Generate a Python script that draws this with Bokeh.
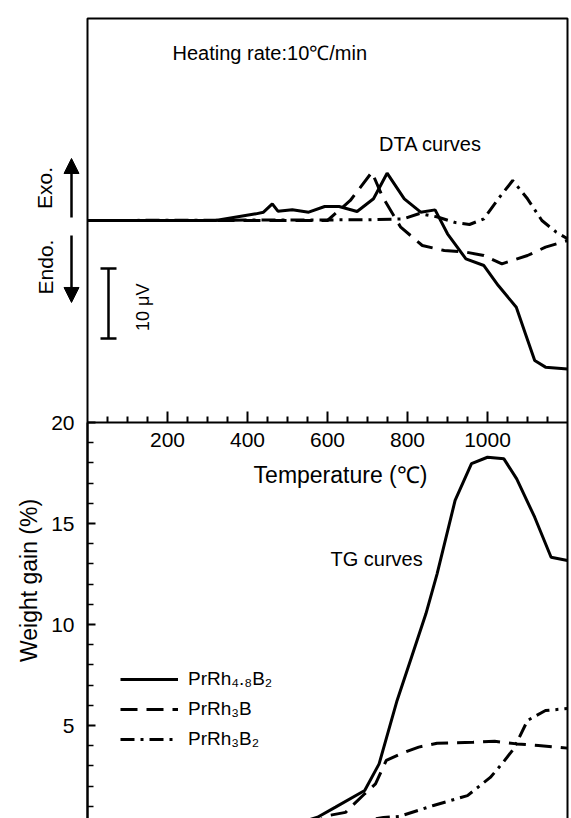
import numpy as np
from bokeh.plotting import figure
from bokeh.models import (Range1d, LinearAxis, FixedTicker, Label, Arrow, NormalHead,
                          Whisker, TeeHead, BoxAnnotation, Legend, LegendItem,
                          ColumnDataSource)
from bokeh.embed import file_html
from bokeh.resources import INLINE

# ---------------- data ----------------
series_names = ["PrRh\u2084.\u2088B\u2082", "PrRh\u2083B", "PrRh\u2083B\u2082"]

# DTA curves (signal in microvolts vs temperature in C)
dta_T_48 = [0, 320, 421, 440, 462, 476, 512, 553, 593, 629, 674, 715, 749, 792, 833, 869,
            900, 946, 991, 1027, 1072, 1095, 1118, 1145, 1200]
dta_v_48 = [0, 0, 0.95, 1.19, 2.38, 1.33, 1.52, 1.19, 2.0, 2.0, 1.29, 3.1, 6.76, 3.1, 1.19,
            1.52, -1.9, -5.48, -6.43, -9.29, -12.4, -16.2, -20.0, -20.95, -21.2]

dta_T_3B = [0, 600, 657, 711, 738, 783, 837, 892, 946, 991, 1036, 1100, 1145, 1200]
dta_v_3B = [0, 0, 2.86, 6.9, 3.33, -0.95, -3.57, -4.29, -4.52, -5.0, -6.19, -5.0, -3.81, -2.86]

dta_T_3B2 = [0, 700, 790, 830, 875, 920, 955, 991, 1027, 1063, 1100, 1136, 1172, 1200]
dta_v_3B2 = [0, 0.1, 0.24, 1.0, 0.5, -0.3, -0.57, 0.24, 3.1, 5.71, 3.1, 0.0, -1.67, -2.6]

# TG curves (weight gain % vs temperature in C)
tg_T_48 = [500, 575, 620, 693, 729, 774, 810, 846, 874, 919, 960, 1000, 1041, 1073, 1118,
           1159, 1200]
tg_v_48 = [0, 0.46, 0.96, 1.78, 3.1, 6.24, 8.38, 10.53, 12.51, 16.14, 17.96, 18.28, 18.2,
           17.21, 15.31, 13.33, 13.17]

tg_T_3B = [550, 602, 645, 693, 720, 747, 783, 828, 874, 964, 1018, 1073, 1127, 1200]
tg_v_3B = [0, 0.54, 0.7, 1.62, 2.11, 3.27, 3.6, 3.93, 4.12, 4.17, 4.22, 4.09, 4.01, 3.88]

tg_T_3B2 = [650, 700, 740, 780, 865, 950, 1007, 1037, 1066, 1100, 1145, 1200]
tg_v_3B2 = [0.1, 0.3, 0.45, 0.5, 1.04, 1.53, 2.43, 3.12, 3.86, 5.25, 5.74, 5.84]

x_major_ticks = [200, 400, 600, 800, 1000]
x_minor_ticks = [50, 100, 150, 250, 300, 350, 450, 500, 550, 650, 700, 750, 850, 900, 950,
                 1050, 1100, 1150]
y_major_ticks = [5, 10, 15, 20]
y_minor_ticks = [1, 2, 3, 4, 6, 7, 8, 9, 11, 12, 13, 14, 16, 17, 18, 19]

scale_bar_T = [52.5]
scale_bar_low = [-16.86]
scale_bar_high = [-6.86]

# ---------------- layout ----------------
W, H = 571, 818
T_MAX = 1200
AX_PX = 87            # x pixel of T = 0
PX_PER_T = 0.4
TG_TOP_PX = 422       # y pixel where weight gain = 20
TG_PX = 20.2
DTA_BASE_PX = 220
DTA_PX = 7.0
BOX_TOP_PX = 18

x_range = Range1d(-AX_PX / PX_PER_T, T_MAX + (W - AX_PX - T_MAX * PX_PER_T) / PX_PER_T)
y_range = Range1d(20 - (H - TG_TOP_PX) / TG_PX, 20 + TG_TOP_PX / TG_PX)
dta_range = Range1d(-(H - DTA_BASE_PX) / DTA_PX, DTA_BASE_PX / DTA_PX)

p = figure(width=W, height=H, x_range=x_range, y_range=y_range,
           output_backend="svg", toolbar_location=None,
           x_axis_type=None, y_axis_type=None,
           min_border_left=0, min_border_right=0, min_border_top=0, min_border_bottom=0)
p.extra_y_ranges = {"dta": dta_range}
p.xgrid.visible = False
p.ygrid.visible = False
p.outline_line_color = None
p.background_fill_color = "white"
p.border_fill_color = "white"

FONT = "Liberation Sans"

# frame box of the DTA panel (left/top/right)
box = BoxAnnotation(left=0, right=T_MAX, top=20 + (TG_TOP_PX - BOX_TOP_PX) / TG_PX,
                    bottom=y_range.start - 30, fill_alpha=0, line_color="black",
                    line_alpha=1.0, line_width=2)
p.add_layout(box)

# x axis, lying between the two panels
xaxis = LinearAxis(fixed_location=20, bounds=(0, T_MAX),
                   ticker=FixedTicker(ticks=x_major_ticks, minor_ticks=x_minor_ticks))
xaxis.axis_line_width = 2
xaxis.major_tick_in = 11
xaxis.major_tick_out = 0
xaxis.minor_tick_in = 6
xaxis.minor_tick_out = 0
xaxis.major_tick_line_width = 2
xaxis.minor_tick_line_width = 2
xaxis.major_label_standoff = 10
xaxis.major_label_text_font = FONT
xaxis.major_label_text_font_size = "21px"
xaxis.major_label_text_color = "black"
p.add_layout(xaxis, "below")

# y axis of TG panel
yaxis = LinearAxis(fixed_location=0, bounds=(0, 20),
                   ticker=FixedTicker(ticks=y_major_ticks, minor_ticks=y_minor_ticks))
yaxis.axis_line_width = 2
yaxis.major_tick_in = 8
yaxis.major_tick_out = 0
yaxis.minor_tick_in = 6
yaxis.minor_tick_out = 0
yaxis.major_tick_line_width = 2
yaxis.minor_tick_line_width = 1.5
yaxis.major_label_standoff = 13
yaxis.major_label_text_font = FONT
yaxis.major_label_text_font_size = "21px"
yaxis.major_label_text_color = "black"
p.add_layout(yaxis, "left")

# ---------------- curves ----------------
styles = [dict(line_dash="solid"), dict(line_dash="17 9"), dict(line_dash="14 6 3 6")]

p.line(dta_T_48, dta_v_48, y_range_name="dta", line_color="black", line_width=3, **styles[0])
p.line(dta_T_3B, dta_v_3B, y_range_name="dta", line_color="black", line_width=3, **styles[1])
p.line(dta_T_3B2, dta_v_3B2, y_range_name="dta", line_color="black", line_width=3, **styles[2])

r1 = p.line(tg_T_48, tg_v_48, line_color="black", line_width=3, **styles[0])
r2 = p.line(tg_T_3B, tg_v_3B, line_color="black", line_width=3, **styles[1])
r3 = p.line(tg_T_3B2, tg_v_3B2, line_color="black", line_width=3, **styles[2])

legend = Legend(items=[LegendItem(label=series_names[0], renderers=[r1]),
                       LegendItem(label=series_names[1], renderers=[r2]),
                       LegendItem(label=series_names[2], renderers=[r3])],
                location=(120, 68), glyph_width=58, glyph_height=20, label_height=20,
                label_standoff=10, spacing=8, padding=0, margin=0,
                border_line_color=None, background_fill_alpha=0,
                label_text_font=FONT, label_text_font_size="19px",
                label_text_color="black")
p.add_layout(legend)

# ---------------- annotations ----------------
def lab(text, x, y, size, rng="default", angle=0.0, align="left"):
    p.add_layout(Label(x=x, y=y, text=text, y_range_name=rng, angle=angle,
                       text_align=align, text_baseline="middle", text_font=FONT,
                       text_font_size=size, text_color="black"))

lab("Heating rate:10\u2103/min", 212.5, 24.0, "20px", rng="dta")
lab("DTA curves", 729, 11.0, "20px", rng="dta")
lab("TG curves", 607.5, 13.22, "20px")
lab("Temperature (\u2103)", 632.5, 17.38, "23px", align="center")
lab("Weight gain (%)", -147.5, 12.18, "23px", angle=np.pi / 2, align="center")
lab("Exo.", -107.5, 4.64, "21px", rng="dta", angle=np.pi / 2, align="center")
lab("Endo.", -105, -6.64, "21px", rng="dta", angle=np.pi / 2, align="center")
lab("10 \u03bcV", 137.5, -12.4, "18px", rng="dta", angle=np.pi / 2, align="center")

p.add_layout(Arrow(x_start=-40, y_start=0.43, x_end=-40, y_end=8.86, y_range_name="dta",
                   line_width=2.5, line_color="black",
                   end=NormalHead(size=15, fill_color="black", line_color="black")))
p.add_layout(Arrow(x_start=-40, y_start=-2.14, x_end=-40, y_end=-11.71, y_range_name="dta",
                   line_width=2.5, line_color="black",
                   end=NormalHead(size=15, fill_color="black", line_color="black")))

bar_src = ColumnDataSource(dict(x=scale_bar_T, lo=scale_bar_low, hi=scale_bar_high))
p.add_layout(Whisker(base="x", lower="lo", upper="hi", source=bar_src, dimension="height",
                     y_range_name="dta", line_width=2.5, line_color="black", level="annotation",
                     upper_head=TeeHead(size=16, line_width=2.5, line_color="black"),
                     lower_head=TeeHead(size=16, line_width=2.5, line_color="black")))

open("out.html", "w").write(file_html(p, INLINE))
